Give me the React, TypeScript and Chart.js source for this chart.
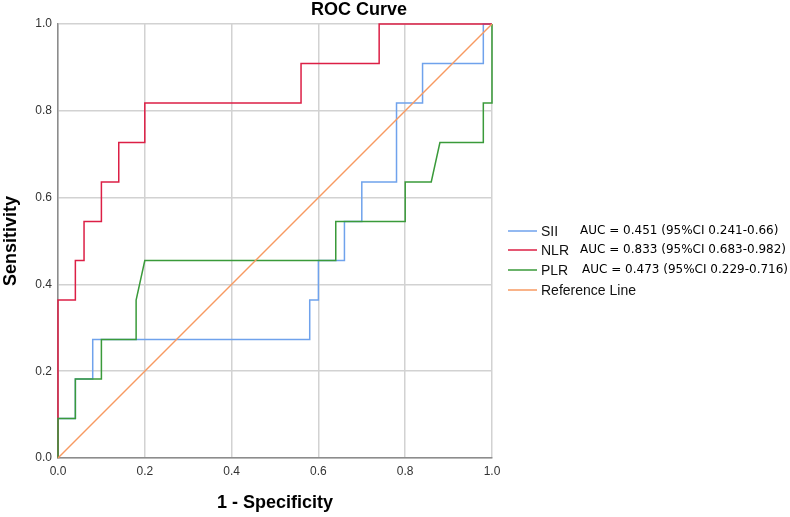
import React, { useEffect, useRef } from "react";
import { Chart, registerables } from "chart.js";

Chart.register(...registerables);

const TITLE = "ROC Curve";
const X_TITLE = "1 - Specificity";
const Y_TITLE = "Sensitivity";

// SII curve (1 - specificity, sensitivity)
const siiX = [0, 0, 0.04, 0.04, 0.08, 0.08, 0.58, 0.58, 0.6, 0.6, 0.66, 0.66, 0.7, 0.7, 0.78, 0.78, 0.84, 0.84, 0.98, 0.98, 1.0];
const siiY = [0, 0.091, 0.091, 0.182, 0.182, 0.273, 0.273, 0.364, 0.364, 0.455, 0.455, 0.545, 0.545, 0.636, 0.636, 0.818, 0.818, 0.909, 0.909, 1.0, 1.0];

// NLR curve
const nlrX = [0, 0, 0.04, 0.04, 0.06, 0.06, 0.1, 0.1, 0.14, 0.14, 0.2, 0.2, 0.56, 0.56, 0.74, 0.74, 1.0];
const nlrY = [0, 0.364, 0.364, 0.455, 0.455, 0.545, 0.545, 0.636, 0.636, 0.727, 0.727, 0.818, 0.818, 0.909, 0.909, 1.0, 1.0];

// PLR curve
const plrX = [0, 0, 0.04, 0.04, 0.1, 0.1, 0.18, 0.18, 0.2, 0.64, 0.64, 0.8, 0.8, 0.86, 0.88, 0.98, 0.98, 1.0, 1.0];
const plrY = [0, 0.091, 0.091, 0.182, 0.182, 0.273, 0.273, 0.364, 0.455, 0.455, 0.545, 0.545, 0.636, 0.636, 0.727, 0.727, 0.818, 0.818, 1.0];

// Reference line
const refX = [0, 1];
const refY = [0, 1];

const seriesNames = ["SII", "NLR", "PLR", "Reference Line"];
const aucTexts = [
  "AUC = 0.451 (95%CI 0.241-0.66)",
  "AUC = 0.833 (95%CI 0.683-0.982)",
  "AUC = 0.473 (95%CI 0.229-0.716)",
  "",
];
const seriesColors = ["#6fa2ec", "#dc1f45", "#3a9a3a", "#f79a62"];

const tickValues = [0, 0.2, 0.4, 0.6, 0.8, 1.0];

const toPts = (xs: number[], ys: number[]) => xs.map((x, i) => ({ x, y: ys[i] }));

const overlayPlugin = {
  id: "overlay",
  afterDraw(chart: any) {
    const ctx = chart.ctx as CanvasRenderingContext2D;
    ctx.save();
    ctx.fillStyle = "#000";
    ctx.font = 'bold 18px "Liberation Sans", Arial, sans-serif';
    ctx.textAlign = "center";
    ctx.textBaseline = "middle";
    ctx.fillText(TITLE, 359, 10);

    const rows = [231, 250, 270, 290];
    seriesNames.forEach((name, i) => {
      const y = rows[i];
      ctx.strokeStyle = seriesColors[i];
      ctx.lineWidth = 1.5;
      ctx.beginPath();
      ctx.moveTo(508, y);
      ctx.lineTo(537, y);
      ctx.stroke();
      ctx.fillStyle = "#111";
      ctx.font = '14px "Liberation Sans", Arial, sans-serif';
      ctx.textAlign = "left";
      ctx.textBaseline = "middle";
      ctx.fillText(name, 541, y + 1);
      if (aucTexts[i]) {
        ctx.fillStyle = "#000";
        ctx.font = '12px "DejaVu Sans", sans-serif';
        ctx.fillText(aucTexts[i], i === 2 ? 582 : 580, y);
      }
    });
    ctx.restore();
  },
};

export default function App() {
  const ref = useRef<HTMLCanvasElement | null>(null);
  useEffect(() => {
    if (!ref.current) return;
    const chart = new Chart(ref.current, {
      type: "scatter",
      data: {
        datasets: [
          { label: seriesNames[3], data: toPts(refX, refY), borderColor: seriesColors[3], order: 0 },
          { label: seriesNames[2], data: toPts(plrX, plrY), borderColor: seriesColors[2], order: 1 },
          { label: seriesNames[1], data: toPts(nlrX, nlrY), borderColor: seriesColors[1], order: 2 },
          { label: seriesNames[0], data: toPts(siiX, siiY), borderColor: seriesColors[0], order: 3 },
        ].map((d) => ({
          ...d,
          showLine: true,
          borderWidth: 1.5,
          pointRadius: 0,
          pointHoverRadius: 0,
          fill: false,
          tension: 0,
          clip: false,
        })),
      },
      options: {
        responsive: false,
        animation: false,
        layout: { padding: { top: 24, right: 298, left: 0, bottom: 0 } },
        plugins: {
          legend: { display: false },
          title: { display: false },
          tooltip: { enabled: false },
        },
        scales: {
          x: {
            type: "linear",
            min: 0,
            max: 1,
            afterBuildTicks: (s: any) => {
              s.ticks = tickValues.map((v) => ({ value: v }));
            },
            afterFit: (s: any) => {
              s.height = 59;
            },
            grid: { color: "#d2d2d2", lineWidth: 1.5, drawTicks: false },
            border: { color: "#8c8c8c", width: 1.5 },
            ticks: {
              padding: 6,
              color: "#333",
              font: { family: '"Liberation Sans", Arial, sans-serif', size: 12 },
              callback: (v: any) => Number(v).toFixed(1),
            },
            title: {
              display: true,
              text: X_TITLE,
              color: "#000",
              font: { family: '"Liberation Sans", Arial, sans-serif', size: 18, weight: "bold" },
              padding: { top: 0, bottom: 3 },
            },
          },
          y: {
            type: "linear",
            min: 0,
            max: 1,
            afterBuildTicks: (s: any) => {
              s.ticks = tickValues.map((v) => ({ value: v }));
            },
            afterFit: (s: any) => {
              s.width = 58;
            },
            grid: { color: "#d2d2d2", lineWidth: 1.5, drawTicks: false },
            border: { color: "#8c8c8c", width: 1.5 },
            ticks: {
              padding: 6,
              color: "#333",
              font: { family: '"Liberation Sans", Arial, sans-serif', size: 12 },
              callback: (v: any) => Number(v).toFixed(1),
            },
            title: {
              display: true,
              text: Y_TITLE,
              color: "#000",
              font: { family: '"Liberation Sans", Arial, sans-serif', size: 18, weight: "bold" },
              padding: { top: 0, bottom: 0 },
            },
          },
        },
      },
      plugins: [overlayPlugin],
    });
    return () => chart.destroy();
  }, []);

  return (
    <div style={{ position: "absolute", left: 0, top: 0, width: 790, height: 517, background: "#fff" }}>
      <canvas ref={ref} width={790} height={517} style={{ width: 790, height: 517, display: "block" }} />
    </div>
  );
}
